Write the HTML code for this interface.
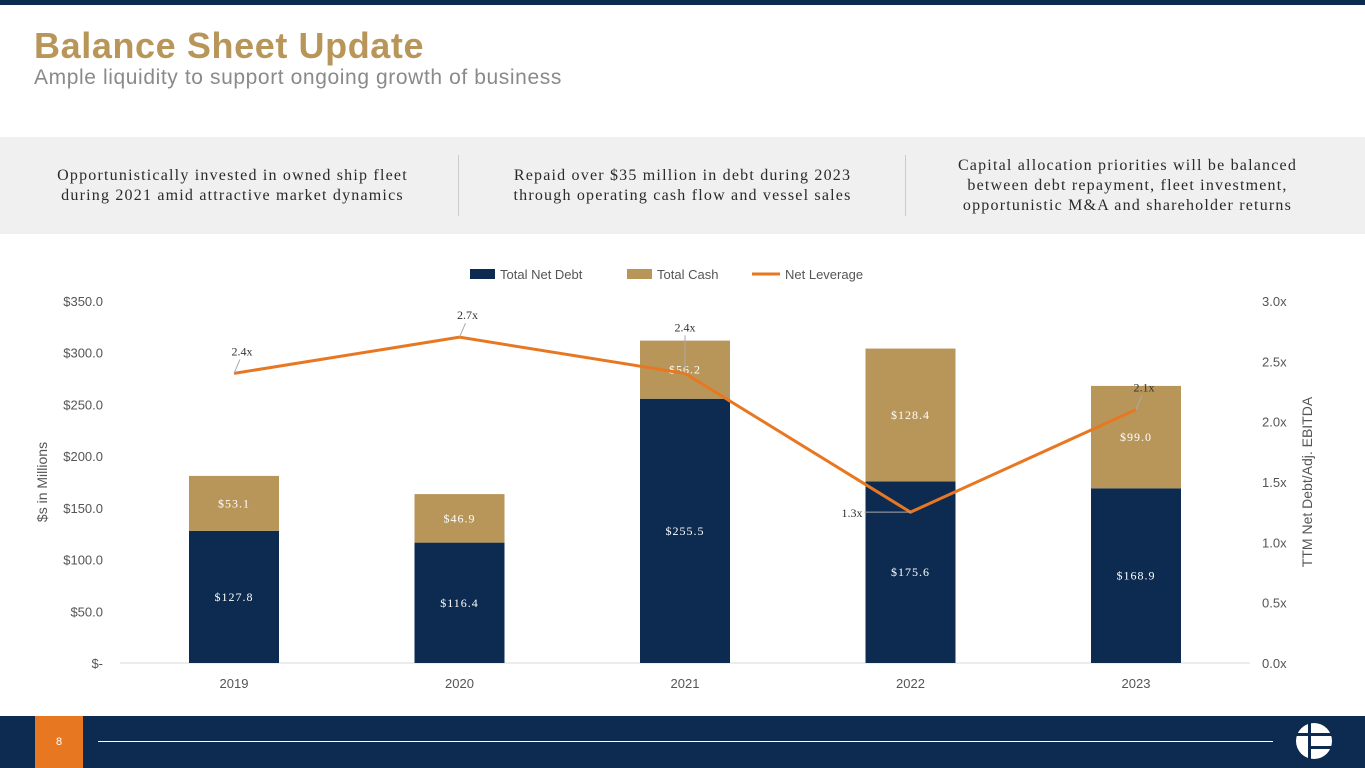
<!DOCTYPE html>
<html><head><meta charset="utf-8"><style>
body{margin:0;width:1365px;height:768px;position:relative;background:#fff;font-family:"Liberation Sans",sans-serif;overflow:hidden}
.abs{position:absolute}
.box{position:absolute;top:155px;height:62px;display:flex;align-items:center;justify-content:center;text-align:center;font-family:"Liberation Serif",serif;font-size:16px;color:#2a2a2a;letter-spacing:1.2px;line-height:20px}
</style></head><body>
<div class="abs" style="left:0;top:0;width:1365px;height:5px;background:#0d2b50"></div>
<div class="abs" style="left:34px;top:25px;font-size:36px;font-weight:bold;color:#b8965a;letter-spacing:0.6px">Balance Sheet Update</div>
<div class="abs" style="left:34px;top:66px;font-size:21px;color:#8a8a8a;letter-spacing:0.6px">Ample liquidity to support ongoing growth of business</div>
<div class="abs" style="left:0;top:137px;width:1365px;height:97px;background:#f0f0f0"></div>
<div class="box" style="left:20px;width:425px">Opportunistically invested in owned ship fleet<br>during 2021 amid attractive market dynamics</div>
<div class="abs" style="left:458px;top:155px;width:1px;height:61px;background:#ccc"></div>
<div class="box" style="left:470px;width:425px">Repaid over $35 million in debt during 2023<br>through operating cash flow and vessel sales</div>
<div class="abs" style="left:905px;top:155px;width:1px;height:61px;background:#ccc"></div>
<div class="box" style="left:915px;width:425px">Capital allocation priorities will be balanced<br>between debt repayment, fleet investment,<br>opportunistic M&amp;A and shareholder returns</div>
<svg class="abs" style="left:0;top:0" width="1365" height="768" id="chart"></svg>
<div class="abs" style="left:0;top:716px;width:1365px;height:52px;background:#0d2b50"></div>
<div class="abs" style="left:35px;top:716px;width:48px;height:52px;background:#e87722;color:#fff;font-size:11px;line-height:52px;text-align:center">8</div>
<div class="abs" style="left:98px;top:741px;width:1175px;height:1px;background:#fff"></div>
<svg class="abs" style="left:1294px;top:722px" width="40" height="40">
<circle cx="20" cy="19" r="18" fill="#fff"/><rect x="14" y="0" width="3" height="40" fill="#0d2b50"/><rect x="17" y="11" width="25" height="3" fill="#0d2b50"/><rect x="17" y="24" width="25" height="3" fill="#0d2b50"/><rect x="0" y="11" width="14" height="3" fill="#0d2b50"/></svg>
<script>
const years=["2019","2020","2021","2022","2023"];
const debt=[127.8,116.4,255.5,175.6,168.9];
const cash=[53.1,46.9,56.2,128.4,99.0];
const lev=[2.4,2.7,2.4,1.25,2.1];
const levLabels=["2.4x","2.7x","2.4x","1.3x","2.1x"];
const leftTicks=[0,50,100,150,200,250,300,350];
const rightTicks=[0,0.5,1,1.5,2,2.5,3];
const svg=document.getElementById('chart');const NS="http://www.w3.org/2000/svg";
const y0=663,yTop=301;
const yL=v=>y0-(v/350)*(y0-yTop);
const yR=v=>y0-(v/3)*(y0-yTop);
const xC=i=>234+i*225.5;
function el(t,a,txt){const e=document.createElementNS(NS,t);for(const k in a)e.setAttribute(k,a[k]);if(txt!==undefined)e.textContent=txt;svg.appendChild(e);return e;}
leftTicks.forEach(v=>{const t=el('text',{x:103,y:yL(v)+5,'text-anchor':'end','font-size':13,fill:'#555','font-family':'Liberation Sans'},v===0?'$-':'$'+v.toFixed(1));});
rightTicks.forEach(v=>{const t=el('text',{x:1262,y:yR(v)+5,'font-size':13,fill:'#555','font-family':'Liberation Sans'},v.toFixed(1)+'x');});
el('line',{x1:120,x2:1250,y1:y0,y2:y0,stroke:'#d9d9d9'});
years.forEach((yr,i)=>{const x=xC(i);
const b=el('rect',{x:x-45,y:yL(debt[i]),width:90,height:y0-yL(debt[i]),fill:'#0d2b50'});
const c=el('rect',{x:x-45,y:yL(debt[i]+cash[i]),width:90,height:yL(debt[i])-yL(debt[i]+cash[i]),fill:'#b8965a'});
el('text',{x:x,y:(yL(debt[i])+y0)/2+4,'text-anchor':'middle','font-size':12,fill:'#fff','font-family':'Liberation Serif','letter-spacing':1},'$'+debt[i].toFixed(1));
el('text',{x:x,y:(yL(debt[i])+yL(debt[i]+cash[i]))/2+4,'text-anchor':'middle','font-size':12,fill:'#fff','font-family':'Liberation Serif','letter-spacing':1},'$'+cash[i].toFixed(1));
const xl=el('text',{x:x,y:688,'text-anchor':'middle','font-size':13,fill:'#555','font-family':'Liberation Sans'},yr);
});
const pts=lev.map((v,i)=>xC(i)+','+yR(v)).join(' ');
const pl=el('polyline',{points:pts,fill:'none',stroke:'#e87722','stroke-width':3});
lev.forEach((v,i)=>{const x=xC(i),y=yR(v);
if(i===3){el('line',{x1:x,y1:y,x2:x-46,y2:y,stroke:'#aaa'});el('text',{x:x-48,y:y+5,'text-anchor':'end','font-size':12,fill:'#333','font-family':'Liberation Serif'},levLabels[i]);}
else if(i===2){el('line',{x1:x,y1:y,x2:x,y2:y-38,stroke:'#aaa'});el('text',{x:x,y:y-42,'text-anchor':'middle','font-size':12,fill:'#333','font-family':'Liberation Serif'},levLabels[i]);}
else{el('line',{x1:x,y1:y,x2:x+6,y2:y-14,stroke:'#aaa'});el('text',{x:x+8,y:y-18,'text-anchor':'middle','font-size':12,fill:'#333','font-family':'Liberation Serif'},levLabels[i]);}
});
const ya=el('text',{transform:'translate(47,482) rotate(-90)','text-anchor':'middle','font-size':14,fill:'#555','font-family':'Liberation Sans'},'$s in Millions');
const yb=el('text',{transform:'translate(1312,482) rotate(-90)','text-anchor':'middle','font-size':14,fill:'#555','font-family':'Liberation Sans'},'TTM Net Debt/Adj. EBITDA');
[['Total Net Debt','#0d2b50',470,'rect'],['Total Cash','#b8965a',627,'rect'],['Net Leverage','#e87722',752,'line']].forEach(l=>{
if(l[3]==='rect')el('rect',{x:l[2],y:269,width:25,height:10,fill:l[1]});else el('line',{x1:l[2],x2:l[2]+28,y1:274,y2:274,stroke:l[1],'stroke-width':3});
const t=el('text',{x:l[2]+(l[3]==='rect'?30:33),y:279,'font-size':13,fill:'#555','font-family':'Liberation Sans'},l[0]);});
</script>
</body></html>
